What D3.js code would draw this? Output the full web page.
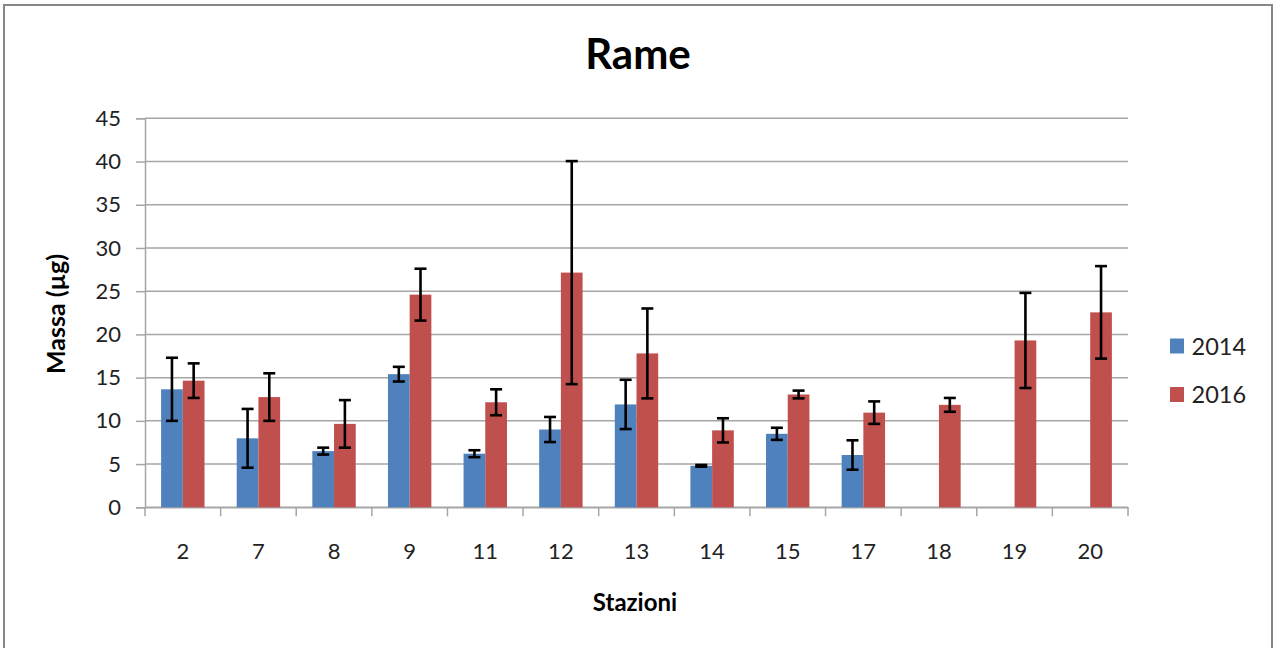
<!DOCTYPE html>
<html><head><meta charset="utf-8">
<script src="https://cdn.jsdelivr.net/npm/d3@7"></script>
<style>body{margin:0;background:#fff}svg{display:block}</style>
</head><body><svg id="c" width="1281" height="648"></svg>
<script>
const stations = ["2","7","8","9","11","12","13","14","15","17","18","19","20"];
const series = ["2014","2016"];
const values2014 = [13.65, 7.98, 6.5, 15.4, 6.2, 9.0, 11.9, 4.8, 8.5, 6.05, null, null, null];
const errors2014 = [3.65, 3.4, 0.4, 0.85, 0.4, 1.45, 2.85, 0.1, 0.7, 1.7, null, null, null];
const values2016 = [14.65, 12.75, 9.65, 24.6, 12.15, 27.15, 17.8, 8.9, 13.05, 10.95, 11.85, 19.3, 22.55];
const errors2016 = [2.0, 2.75, 2.75, 3.0, 1.5, 12.9, 5.2, 1.4, 0.45, 1.3, 0.8, 5.5, 5.35];
const yTicks = [0,5,10,15,20,25,30,35,40,45];
const colors = ["#4F81BD","#C0504D"];

const svg = d3.select("#c");
const font = "Lato, 'Open Sans', sans-serif";
// frame
svg.append("rect").attr("x",4).attr("y",5).attr("width",1268).attr("height",660)
  .attr("fill","#fff").attr("stroke","#878787").attr("stroke-width",2);

const m = {left:145, right:1128, top:118.3, bottom:507.3};
const x = d3.scaleBand().domain(stations).range([m.left,m.right]).paddingInner(0).paddingOuter(0);
const y = d3.scaleLinear().domain([0,45]).range([m.bottom,m.top]);
const barW = 21.7;

// gridlines
svg.append("g").selectAll("line").data(yTicks).join("line")
  .attr("x1",m.left).attr("x2",m.right).attr("y1",d=>y(d)).attr("y2",d=>y(d))
  .attr("stroke","#a6a6a6").attr("stroke-width",1.5);

// y axis
const ya = svg.append("g").attr("transform",`translate(${m.left},0)`)
  .call(d3.axisLeft(y).tickValues(yTicks).tickSize(9).tickPadding(15));
ya.select(".domain").attr("stroke","#a6a6a6").attr("stroke-width",1.5);
ya.selectAll(".tick line").attr("stroke","#a6a6a6").attr("stroke-width",1.5);
ya.selectAll("text").attr("font-family",font).attr("font-size",22).attr("fill","#222");

// x axis
const xa = svg.append("g").attr("transform",`translate(0,${m.bottom})`)
  .call(d3.axisBottom(x).tickSize(0).tickPadding(36));
xa.select(".domain").attr("stroke","#a6a6a6").attr("stroke-width",1.5);
xa.selectAll("text").attr("font-family",font).attr("font-size",22).attr("fill","#222");
// boundary ticks
const bounds = stations.map(s=>x(s)).concat([m.right]);
svg.append("g").selectAll("line").data(bounds).join("line")
  .attr("x1",d=>d).attr("x2",d=>d).attr("y1",m.bottom).attr("y2",m.bottom+9)
  .attr("stroke","#a6a6a6").attr("stroke-width",1.5);

// bars
const data = [];
stations.forEach((s,i)=>{
  [[values2014,errors2014],[values2016,errors2016]].forEach(([v,e],k)=>{
    if(v[i]!=null) data.push({s, k, v:v[i], e:e[i]});
  });
});
const cx = d => x(d.s) + x.bandwidth()/2 + (d.k===0 ? -barW : 0);
svg.append("g").selectAll("rect").data(data).join("rect")
  .attr("x",cx).attr("width",barW)
  .attr("y",d=>y(d.v)).attr("height",d=>y(0)-y(d.v))
  .attr("fill",d=>colors[d.k]);

// error bars
const eb = svg.append("g").attr("stroke","#000").attr("stroke-width",2.6);
data.forEach(d=>{
  const mx = cx(d)+barW/2;
  const y1 = y(d.v+d.e), y2 = y(d.v-d.e);
  eb.append("line").attr("x1",mx).attr("x2",mx).attr("y1",y1).attr("y2",y2);
  eb.append("line").attr("x1",mx-6).attr("x2",mx+6).attr("y1",y1).attr("y2",y1);
  eb.append("line").attr("x1",mx-6).attr("x2",mx+6).attr("y1",y2).attr("y2",y2);
});

// title
svg.append("text").attr("x",638).attr("y",69).attr("text-anchor","middle")
  .attr("font-family",font).attr("font-weight","bold").attr("font-size",42).attr("fill","#000").text("Rame");
svg.append("text").attr("transform","translate(65,314) rotate(-90)").attr("text-anchor","middle")
  .attr("font-family",font).attr("font-weight","bold").attr("font-size",25).attr("fill","#000").text("Massa (µg)");
svg.append("text").attr("x",635).attr("y",611).attr("text-anchor","middle")
  .attr("font-family",font).attr("font-weight","bold").attr("font-size",24).attr("fill","#000").text("Stazioni");

// legend
const lg = svg.append("g").selectAll("g").data(series).join("g")
  .attr("transform",(d,i)=>`translate(1170,${338.5+i*48.5})`);
lg.append("rect").attr("width",14).attr("height",15).attr("fill",(d,i)=>colors[i]);
lg.append("text").attr("x",21.5).attr("y",16).attr("font-family",font).attr("font-size",23.5).attr("fill","#222").text(d=>d);
</script></body></html>
